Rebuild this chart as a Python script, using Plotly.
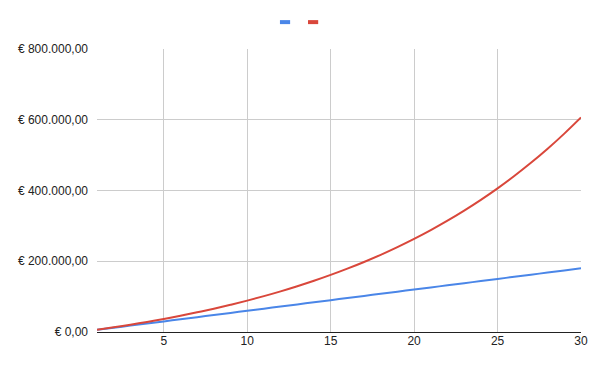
import plotly.graph_objects as go

years = list(range(1, 31))
deposits = [6000, 12000, 18000, 24000, 30000, 36000, 42000, 48000, 54000, 60000,
            66000, 72000, 78000, 84000, 90000, 96000, 102000, 108000, 114000, 120000,
            126000, 132000, 138000, 144000, 150000, 156000, 162000, 168000, 174000, 180000]
total = [6420, 13290, 20640, 28500, 36920, 45920, 55560, 65870, 76900, 88700,
         101330, 114840, 129300, 144770, 161330, 179040, 197990, 218270, 239970, 263190,
         288040, 314620, 343060, 373490, 406060, 440900, 478190, 518080, 560770, 606440]

y_ticks = [0, 200000, 400000, 600000, 800000]
y_labels = ["€ 0,00", "€ 200.000,00", "€ 400.000,00", "€ 600.000,00", "€ 800.000,00"]
x_ticks = [5, 10, 15, 20, 25, 30]

blue = "#4a86e8"
red = "#d9473b"

fig = go.Figure()
fig.add_trace(go.Scatter(x=years, y=deposits, mode="lines", line=dict(color=blue, width=2, shape="spline"), showlegend=False))
fig.add_trace(go.Scatter(x=years, y=total, mode="lines", line=dict(color=red, width=2, shape="spline"), showlegend=False))

# legend swatches (no text)
for x0, c in [(0.378, blue), (0.436, red)]:
    fig.add_shape(type="line", xref="paper", yref="paper", x0=x0, x1=x0 + 0.021,
                  y0=1.095, y1=1.095, line=dict(color=c, width=4))

fig.update_layout(
    width=600, height=371,
    margin=dict(l=97, r=19, t=49, b=39),
    paper_bgcolor="white", plot_bgcolor="white",
    font=dict(family="Liberation Sans, Arial, sans-serif", size=12, color="#222"),
    hovermode=False,
    xaxis=dict(range=[1, 30], tickvals=x_ticks, showgrid=True, gridcolor="#cccccc",
               gridwidth=1, zeroline=False, showline=False, ticks="", tickfont=dict(size=12, color="#222")),
    yaxis=dict(range=[0, 800000], tickvals=y_ticks, ticktext=y_labels, showgrid=True,
               gridcolor="#cccccc", gridwidth=1, zeroline=True, zerolinecolor="#222222",
               zerolinewidth=1, showline=False, ticks="", ticklabelstandoff=8,
               tickfont=dict(size=12, color="#222")),
)

fig.write_html("out.html")
